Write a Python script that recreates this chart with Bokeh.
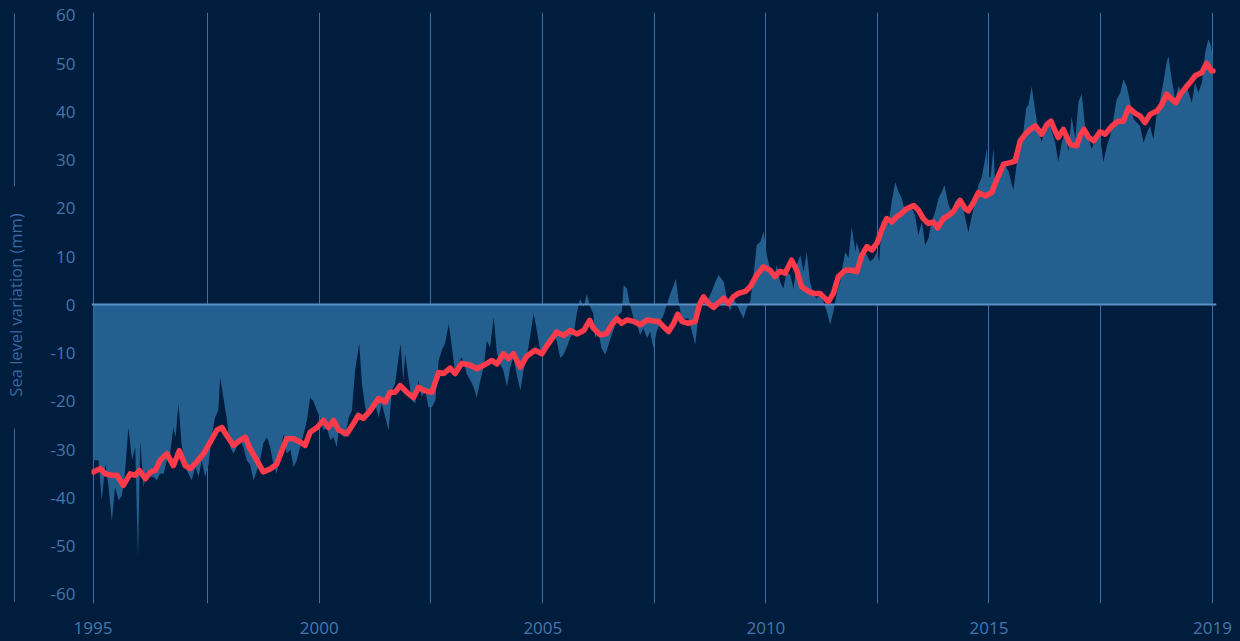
import math
from bokeh.plotting import figure
from bokeh.layouts import row
from bokeh.models import Range1d, FixedTicker
from bokeh.core.properties import value
from bokeh.embed import file_html
from bokeh.resources import INLINE

# ---------------- data ----------------
sat_years = [
    1995.01, 1995.12, 1995.19, 1995.27, 1995.34, 1995.41, 1995.48, 1995.56, 1995.63, 1995.70,
    1995.77, 1995.85, 1995.92, 1995.98, 1996.03, 1996.10, 1996.17, 1996.25, 1996.32, 1996.39,
    1996.46, 1996.54, 1996.61, 1996.68, 1996.75, 1996.80, 1996.86, 1996.93, 1997.01, 1997.08,
    1997.15, 1997.23, 1997.30, 1997.37, 1997.44, 1997.52, 1997.59, 1997.66, 1997.73, 1997.77,
    1997.84, 1997.91, 1997.99, 1998.06, 1998.13, 1998.21, 1998.28, 1998.35, 1998.42, 1998.50,
    1998.57, 1998.64, 1998.71, 1998.79, 1998.86, 1998.93, 1999.00, 1999.08, 1999.15, 1999.22,
    1999.30, 1999.37, 1999.44, 1999.51, 1999.59, 1999.66, 1999.73, 1999.80, 1999.88, 1999.95,
    2000.02, 2000.09, 2000.17, 2000.24, 2000.31, 2000.35, 2000.42, 2000.49, 2000.57, 2000.64,
    2000.71, 2000.80, 2000.86, 2000.93, 2001.00, 2001.07, 2001.15, 2001.22, 2001.29, 2001.37,
    2001.44, 2001.51, 2001.58, 2001.66, 2001.70, 2001.76, 2001.80, 2001.87, 2001.95, 2002.02,
    2002.09, 2002.16, 2002.24, 2002.31, 2002.38, 2002.46, 2002.53, 2002.60, 2002.67, 2002.75,
    2002.82, 2002.89, 2002.96, 2003.03, 2003.11, 2003.14, 2003.22, 2003.29, 2003.36, 2003.44,
    2003.51, 2003.58, 2003.65, 2003.73, 2003.80, 2003.87, 2003.94, 2004.02, 2004.09, 2004.16,
    2004.23, 2004.31, 2004.38, 2004.45, 2004.52, 2004.60, 2004.67, 2004.74, 2004.81, 2004.89,
    2004.96, 2005.03, 2005.10, 2005.18, 2005.25, 2005.32, 2005.40, 2005.47, 2005.54, 2005.61,
    2005.69, 2005.76, 2005.83, 2005.90, 2005.94, 2006.01, 2006.08, 2006.16, 2006.23, 2006.30,
    2006.38, 2006.45, 2006.52, 2006.56, 2006.63, 2006.70, 2006.78, 2006.85, 2006.92, 2006.99,
    2007.07, 2007.14, 2007.21, 2007.28, 2007.36, 2007.43, 2007.50, 2007.57, 2007.65, 2007.70,
    2007.76, 2007.83, 2007.90, 2007.97, 2008.05, 2008.12, 2008.19, 2008.26, 2008.34, 2008.41,
    2008.48, 2008.56, 2008.63, 2008.74, 2008.81, 2008.88, 2008.95, 2009.03, 2009.10, 2009.17,
    2009.24, 2009.32, 2009.39, 2009.46, 2009.54, 2009.61, 2009.68, 2009.75, 2009.83, 2009.90,
    2009.97, 2010.04, 2010.11, 2010.19, 2010.26, 2010.33, 2010.41, 2010.48, 2010.55, 2010.62,
    2010.70, 2010.77, 2010.84, 2010.91, 2010.99, 2011.06, 2011.13, 2011.21, 2011.28, 2011.31,
    2011.39, 2011.46, 2011.53, 2011.61, 2011.64, 2011.72, 2011.79, 2011.86, 2011.93, 2012.01,
    2012.08, 2012.13, 2012.18, 2012.26, 2012.33, 2012.40, 2012.48, 2012.55, 2012.62, 2012.69,
    2012.77, 2012.84, 2012.91, 2012.98, 2013.06, 2013.13, 2013.20, 2013.27, 2013.35, 2013.42,
    2013.49, 2013.55, 2013.64, 2013.71, 2013.78, 2013.86, 2013.93, 2013.96, 2014.04, 2014.07,
    2014.15, 2014.22, 2014.29, 2014.36, 2014.44, 2014.47, 2014.51, 2014.55, 2014.62, 2014.65,
    2014.73, 2014.80, 2014.87, 2014.95, 2015.02, 2015.05, 2015.13, 2015.20, 2015.27, 2015.33,
    2015.38, 2015.45, 2015.53, 2015.60, 2015.67, 2015.75, 2015.82, 2015.89, 2015.96, 2016.03,
    2016.11, 2016.18, 2016.25, 2016.32, 2016.40, 2016.47, 2016.54, 2016.61, 2016.69, 2016.76,
    2016.83, 2016.91, 2016.98, 2017.01, 2017.09, 2017.16, 2017.23, 2017.30, 2017.38, 2017.45,
    2017.52, 2017.60, 2017.67, 2017.74, 2017.81, 2017.89, 2017.96, 2018.03, 2018.10, 2018.18,
    2018.25, 2018.32, 2018.39, 2018.43, 2018.50, 2018.58, 2018.65, 2018.72, 2018.80, 2018.87,
    2018.94, 2019.01, 2019.08, 2019.16, 2019.23, 2019.30, 2019.36, 2019.40,
]
sat_mm = [
    -32.2, -32.2, -40.5, -32.9, -37.8, -44.9, -37.8, -40.5, -39.5, -34.3,
    -25.4, -32.2, -29.5, -52.3, -28.1, -37.8, -34.3, -35.6, -35.6, -36.3,
    -35.0, -35.0, -32.2, -30.8, -25.4, -27.5, -20.4, -28.8, -33.6, -35.0,
    -36.3, -33.6, -35.6, -32.2, -35.6, -32.9, -26.8, -23.3, -21.8, -15.0,
    -19.2, -23.3, -29.5, -30.8, -29.5, -28.0, -29.5, -32.2, -33.0, -36.4,
    -34.3, -32.2, -28.7, -27.4, -29.5, -33.0, -35.0, -30.8, -26.7, -30.8,
    -30.0, -33.6, -32.2, -29.5, -26.7, -23.9, -19.2, -19.9, -21.9, -23.3,
    -26.0, -25.4, -28.0, -27.4, -29.5, -26.0, -27.0, -27.4, -23.3, -21.9,
    -13.6, -8.0, -16.3, -21.2, -23.3, -21.2, -20.4, -23.3, -20.4, -23.3,
    -26.0, -17.7, -16.3, -10.8, -8.0, -15.6, -10.1, -14.9, -19.8, -20.4,
    -15.6, -19.0, -17.7, -21.2, -21.2, -19.8, -11.5, -9.4, -8.0, -4.0,
    -8.8, -14.2, -12.2, -10.8, -13.0, -14.3, -15.6, -17.0, -19.2, -15.6,
    -12.9, -7.4, -8.8, -2.6, -10.0, -12.2, -13.6, -17.0, -12.9, -10.8,
    -14.3, -17.7, -13.6, -10.8, -6.7, -1.8, -5.3, -9.4, -8.8, -8.1,
    -6.7, -6.0, -7.4, -11.0, -10.3, -8.8, -6.7, -6.0, -1.8, 1.3,
    -0.4, 2.3, -0.4, -1.8, -6.9, -5.5, -9.0, -10.3, -8.3, -6.2,
    -4.1, -2.1, -1.4, 4.1, 3.4, 0.0, -2.8, -4.1, -6.2, -4.8,
    -6.9, -5.5, -9.0, -5.5, -3.4, -2.1, 0.0, 2.1, 4.1, 5.5,
    0.7, -3.4, -2.8, -2.8, -5.5, -8.3, -2.1, 0.7, 0.0, 1.4,
    2.8, 4.8, 6.2, 4.8, 1.4, -1.4, 1.4, 0.0, -1.4, -2.8,
    -0.7, 0.7, 6.2, 12.4, 13.1, 15.2, 10.3, 7.6, 5.5, 8.3,
    4.8, 3.4, 6.9, 6.2, 3.4, 8.3, 10.3, 6.9, 11.0, 4.8,
    2.1, 1.4, 2.1, 0.7, -1.4, -4.1, -1.4, 2.8, 4.8, 6.9,
    11.0, 9.7, 16.2, 11.0, 13.1, 10.3, 11.7, 10.3, 9.0, 9.7,
    11.0, 9.0, 17.2, 17.9, 16.6, 21.4, 25.5, 23.4, 22.1, 19.3,
    20.0, 20.0, 18.6, 14.5, 17.2, 12.4, 13.8, 17.2, 19.3, 22.1,
    23.4, 24.8, 20.7, 19.3, 21.4, 22.1, 20.7, 19.8, 16.4, 15.0,
    18.6, 21.4, 24.9, 26.3, 30.4, 32.5, 26.9, 26.3, 32.5, 25.6,
    27.6, 29.7, 29.0, 27.6, 24.9, 23.8, 29.7, 33.8, 35.9, 40.8,
    41.5, 45.3, 40.1, 35.9, 33.8, 37.3, 38.0, 35.9, 33.8, 29.7,
    33.8, 35.9, 31.8, 39.0, 34.5, 42.1, 43.8, 37.3, 34.5, 32.3,
    34.3, 35.7, 32.3, 29.6, 33.0, 35.1, 38.5, 42.6, 44.0, 46.8,
    45.4, 41.9, 38.5, 37.8, 37.1, 33.6, 35.7, 37.1, 34.3, 39.9,
    42.6, 46.1, 50.2, 51.6, 46.8, 42.6, 45.4, 44.0, 46.1, 44.0,
    41.9, 46.1, 44.0, 46.1, 52.3, 55.1, 53.7, 50.9,
]

smooth_years = [
    1995.01, 1995.16, 1995.27, 1995.41, 1995.52, 1995.66, 1995.81, 1995.92, 1996.01, 1996.14,
    1996.25, 1996.36, 1996.46, 1996.61, 1996.75, 1996.88, 1997.01, 1997.12, 1997.26, 1997.41,
    1997.55, 1997.70, 1997.81, 1997.91, 1998.06, 1998.21, 1998.32, 1998.42, 1998.57, 1998.71,
    1998.86, 1999.00, 1999.11, 1999.22, 1999.37, 1999.51, 1999.62, 1999.73, 1999.88, 2000.02,
    2000.13, 2000.24, 2000.35, 2000.46, 2000.53, 2000.68, 2000.78, 2000.89, 2001.04, 2001.22,
    2001.37, 2001.47, 2001.58, 2001.69, 2001.84, 2001.98, 2002.09, 2002.24, 2002.38, 2002.53,
    2002.64, 2002.78, 2002.89, 2003.03, 2003.22, 2003.36, 2003.51, 2003.69, 2003.80, 2003.94,
    2004.05, 2004.16, 2004.31, 2004.45, 2004.63, 2004.78, 2004.89, 2005.00, 2005.10, 2005.25,
    2005.40, 2005.54, 2005.69, 2005.82, 2005.90, 2006.05, 2006.19, 2006.30, 2006.41, 2006.52,
    2006.63, 2006.78, 2006.92, 2007.07, 2007.21, 2007.32, 2007.43, 2007.54, 2007.65, 2007.74,
    2007.83, 2007.97, 2008.12, 2008.21, 2008.30, 2008.41, 2008.52, 2008.63, 2008.74, 2008.85,
    2008.95, 2009.06, 2009.21, 2009.32, 2009.46, 2009.61, 2009.75, 2009.86, 2009.97, 2010.08,
    2010.22, 2010.33, 2010.44, 2010.59, 2010.70, 2010.84, 2011.02, 2011.13, 2011.24, 2011.39,
    2011.53, 2011.64, 2011.75, 2011.86, 2011.97, 2012.08, 2012.18, 2012.29, 2012.40, 2012.51,
    2012.62, 2012.73, 2012.88, 2012.98, 2013.09, 2013.20, 2013.31, 2013.40, 2013.53, 2013.64,
    2013.74, 2013.89, 2014.00, 2014.07, 2014.18, 2014.29, 2014.44, 2014.58, 2014.69, 2014.84,
    2014.98, 2015.09, 2015.20, 2015.31, 2015.42, 2015.53, 2015.67, 2015.78, 2015.87, 2015.96,
    2016.03, 2016.14, 2016.29, 2016.43, 2016.52, 2016.59, 2016.69, 2016.80, 2016.94, 2017.05,
    2017.20, 2017.34, 2017.45, 2017.56, 2017.71, 2017.81, 2017.92, 2018.03, 2018.18, 2018.29,
    2018.39, 2018.50, 2018.59, 2018.69, 2018.80, 2018.90, 2019.01, 2019.16, 2019.26, 2019.37,
    2019.40,
]
smooth_mm = [
    -34.6, -33.9, -35.0, -35.3, -35.3, -37.4, -35.0, -35.3, -34.3, -36.0,
    -34.6, -34.3, -32.2, -30.8, -33.3, -30.2, -33.3, -33.9, -32.5, -30.8,
    -28.5, -25.9, -25.4, -27.0, -29.1, -28.0, -27.4, -29.8, -32.2, -34.6,
    -34.0, -33.0, -30.3, -27.7, -27.7, -28.4, -29.1, -26.4, -25.4, -23.9,
    -25.4, -23.9, -25.9, -26.4, -26.7, -24.5, -22.9, -23.5, -21.9, -19.4,
    -20.1, -18.1, -18.1, -16.7, -18.1, -19.2, -17.1, -17.8, -18.1, -14.0,
    -14.2, -13.1, -14.2, -12.1, -12.5, -13.2, -12.5, -11.5, -12.2, -10.1,
    -11.1, -10.1, -12.9, -10.6, -9.4, -10.1, -8.4, -7.0, -5.6, -6.3,
    -5.3, -6.0, -5.3, -3.2, -4.8, -6.2, -5.9, -4.1, -2.8, -3.8,
    -3.1, -3.4, -4.1, -3.1, -3.3, -3.4, -4.5, -5.5, -3.8, -1.9,
    -3.4, -3.8, -3.4, 0.0, 1.7, 0.3, -0.5, 0.5, 1.4, 0.3,
    1.7, 2.4, 2.8, 3.8, 6.2, 7.9, 7.2, 5.9, 7.0, 6.6,
    9.3, 7.2, 3.8, 2.8, 2.4, 2.4, 0.7, 2.4, 5.9, 7.2,
    7.2, 6.9, 10.3, 12.1, 11.4, 12.8, 15.5, 17.9, 17.2, 18.3,
    19.0, 20.0, 20.6, 19.7, 17.9, 16.9, 17.2, 16.0, 17.9, 18.6,
    19.3, 21.7, 20.0, 19.5, 21.2, 23.3, 22.6, 23.3, 26.0, 29.2,
    29.5, 29.8, 34.0, 35.4, 36.4, 37.1, 35.4, 37.4, 38.1, 36.1,
    34.7, 36.4, 33.3, 33.0, 35.4, 36.4, 34.8, 34.0, 35.9, 35.4,
    37.1, 38.1, 38.1, 40.9, 39.7, 39.2, 37.8, 39.5, 40.2, 41.6,
    43.7, 42.6, 41.9, 43.7, 45.0, 46.1, 47.5, 48.2, 50.1, 48.5,
    48.5,
]

y_ticks = [-60, -50, -40, -30, -20, -10, 0, 10, 20, 30, 40, 50, 60]
y_tick_labels = ["-60", "-50", "-40", "-30", "-20", "-10", "0", "10", "20", "30", "40", "50", "60"]
x_ticks = [1995.0, 1997.49, 1999.93, 2002.36, 2004.80, 2007.23, 2009.66, 2012.10, 2014.52, 2016.96, 2019.39]
x_tick_labels = ["1995", "", "2000", "", "2005", "", "2010", "", "2015", "", "2019"]
y_title = "Sea level variation (mm)"

# ---------------- style / layout ----------------
BG = "#011d3e"
FILL = "#23608f"
RED = "#ff3a4b"
GRID = "#3a6fa6"
ZERO = "#5b8fc7"
LABEL = "#4576aa"
TITLE = "#35699f"
FONT = "Open Sans"

W, H = 1240, 641
X_START, X_END = 1994.967, 2019.477
Y_START, Y_END = -61.87, 60.62
BT, BB = 12, 38
STRIP_W = 30

yr = Range1d(Y_START, Y_END)

p = figure(width=W - STRIP_W, height=H, x_range=Range1d(X_START, X_END), y_range=yr,
           output_backend="svg", toolbar_location=None,
           min_border_left=61, min_border_right=24, min_border_top=BT, min_border_bottom=BB)
p.background_fill_color = BG
p.border_fill_color = BG
p.outline_line_color = None

p.ygrid.grid_line_color = None
p.xgrid.ticker = FixedTicker(ticks=x_ticks)
p.xgrid.grid_line_color = GRID
p.xgrid.grid_line_width = 1

for ax in (p.xaxis[0], p.yaxis[0]):
    ax.axis_line_color = None
    ax.major_tick_line_color = None
    ax.minor_tick_line_color = None
    ax.major_tick_out = 0
    ax.major_tick_in = 0
    ax.minor_tick_out = 0
    ax.major_label_text_color = LABEL
    ax.major_label_text_font = FONT
    ax.major_label_text_font_size = "17px"

p.xaxis.ticker = FixedTicker(ticks=x_ticks)
p.xaxis.major_label_overrides = {t: l for t, l in zip(x_ticks, x_tick_labels)}
p.xaxis.major_label_standoff = 18
p.yaxis.ticker = FixedTicker(ticks=y_ticks)
p.yaxis.major_label_overrides = {t: l for t, l in zip(y_ticks, y_tick_labels)}
p.yaxis.major_label_standoff = 16

p.varea(x=sat_years, y1=[0] * len(sat_years), y2=sat_mm, fill_color=FILL)
p.hspan(y=[0], line_color=ZERO, line_width=2)
p.line(x=smooth_years, y=smooth_mm, line_color=RED, line_width=5.5,
       line_join="round", line_cap="round")

# left strip with the rotated axis title and its decorative rules
s = figure(width=STRIP_W, height=H, x_range=Range1d(0, STRIP_W), y_range=yr,
           output_backend="svg", toolbar_location=None,
           x_axis_location=None, y_axis_location=None,
           min_border_left=0, min_border_right=0, min_border_top=BT, min_border_bottom=BB)
s.background_fill_color = BG
s.border_fill_color = BG
s.outline_line_color = None
s.grid.grid_line_color = None
s.segment(x0=[14, 14], y0=[60.4, -25.6], x1=[14, 14], y1=[24.6, -61.5], line_color=TITLE, line_width=1)
s.text(x=[15], y=[0], text=[y_title], angle=math.pi / 2, text_align="center", text_baseline="middle",
       text_font=value(FONT), text_font_size="16.5px", text_color=TITLE)

layout = row(s, p, spacing=0)
html = file_html(layout, INLINE, title="Sea level variation")
html = html.replace("<head>", "<head><style>html,body{background-color:#011d3e;}</style>", 1)
open("out.html", "w").write(html)
